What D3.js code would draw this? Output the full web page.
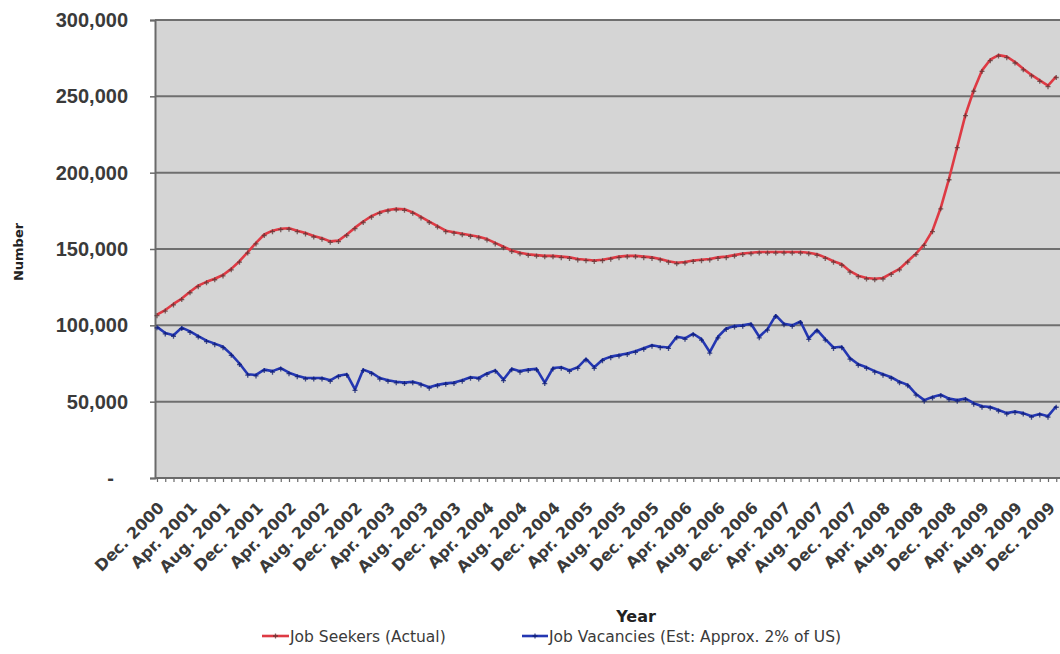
<!DOCTYPE html>
<html>
<head>
<meta charset="utf-8">
<script src="https://cdn.jsdelivr.net/npm/d3@7"></script>
<style>
  body { margin: 0; background: #fff; }
  svg { display: block; font-family: "DejaVu Sans", Verdana, sans-serif; }
</style>
</head>
<body>
<svg id="chart" width="1060" height="654"></svg>
<script>
// Monthly figures, Dec. 2000 onward
const jobSeekers = [
  107000,110000,114000,117500,122000,126000,128500,130500,133000,137000,
  142000,148000,154000,159500,162000,163300,163600,162000,160500,158500,
  157000,155000,155500,159500,164000,168000,171500,174000,175500,176300,
  176000,174000,171000,168000,165000,162000,161000,160000,159000,158000,
  156500,154000,151500,149000,147500,146500,146000,145500,145500,145000,
  144500,143500,143000,142500,143000,144000,145000,145500,145500,145000,
  144500,143500,142000,141000,141500,142500,143000,143500,144500,145000,
  146000,147000,147500,148000,148000,148000,148000,148000,148000,147500,
  146500,144500,142000,140000,135500,132500,131000,130500,131000,134000,
  137000,142000,147000,153000,162000,177000,196000,217000,238000,254000,
  267000,274000,277000,276000,272500,268000,264000,260500,257000,263000
];

const jobVacancies = [
  99000,95000,93500,98500,96000,93000,90000,88000,86000,81000,
  75000,68000,67500,71000,70000,72000,69000,67000,65500,65500,
  65500,64000,67000,68000,58000,71000,69000,65500,64000,63000,
  62500,63000,61500,59500,61000,62000,62500,64000,66000,65500,
  68500,70500,64500,71500,70000,71000,71500,62500,72000,72500,
  70500,72500,78000,72500,77500,79500,80500,81500,83000,85000,
  87000,86000,85500,92500,91500,94500,91000,82500,92500,98000,
  99500,100000,101000,92500,97500,106500,101000,100000,102500,91500,
  97000,91000,85500,86000,78500,74500,72500,70000,68000,66000,
  63000,61000,55000,51000,53000,54500,52000,51000,52000,49000,
  47000,46500,44500,42500,43500,42500,40500,42000,40500,47000
];

const yTicks = [0, 50000, 100000, 150000, 200000, 250000, 300000];

const xTickLabels = [
  "Dec. 2000","Apr. 2001","Aug. 2001","Dec. 2001","Apr. 2002","Aug. 2002","Dec. 2002",
  "Apr. 2003","Aug. 2003","Dec. 2003","Apr. 2004","Aug. 2004","Dec. 2004",
  "Apr. 2005","Aug. 2005","Dec. 2005","Apr. 2006","Aug. 2006","Dec. 2006",
  "Apr. 2007","Aug. 2007","Dec. 2007","Apr. 2008","Aug. 2008","Dec. 2008",
  "Apr. 2009","Aug. 2009","Dec. 2009"
];
const labelStep = 4; // one label every four months

const seriesNames = ["Job Seekers (Actual)", "Job Vacancies (Est: Approx. 2% of US)"];

const svg = d3.select("#chart");
const plot = { left: 155, right: 1060, top: 20, bottom: 478 };

const idx = d3.range(jobSeekers.length);
const x = d3.scalePoint().domain(idx).range([157, 1056.25]);
const y = d3.scaleLinear().domain([0, 300000]).range([plot.bottom, plot.top]);

const textColor = "#3a3a3a";

// plot area
svg.append("rect")
  .attr("x", plot.left).attr("y", plot.top)
  .attr("width", plot.right - plot.left).attr("height", plot.bottom - plot.top)
  .attr("fill", "#d5d5d5");

// horizontal gridlines
svg.append("g")
  .selectAll("line")
  .data(yTicks.filter(d => d > 0))
  .join("line")
  .attr("x1", plot.left).attr("x2", plot.right)
  .attr("y1", d => y(d)).attr("y2", d => y(d))
  .attr("stroke", "#6f6f6f").attr("stroke-width", 2);

// y axis
const yAxis = svg.append("g")
  .attr("transform", `translate(${plot.left},0)`)
  .call(d3.axisLeft(y).tickValues(yTicks).tickSize(5).tickPadding(22)
    .tickFormat(d => d === 0 ? "-" : d3.format(",")(d)));
yAxis.select(".domain").attr("stroke", "#6a6a6a").attr("stroke-width", 2);
yAxis.selectAll(".tick line").attr("stroke", "#6a6a6a").attr("stroke-width", 1.5);
yAxis.selectAll(".tick text")
  .attr("fill", textColor)
  .style("font-size", "20px").style("font-weight", "bold")
  .attr("dx", d => d === 0 ? "-14" : "0");

// x axis: a tick for every month, labels every fourth month
const xAxis = svg.append("g")
  .attr("transform", `translate(0,${plot.bottom})`)
  .call(d3.axisBottom(x).tickSize(4).tickFormat(""));
xAxis.select(".domain").attr("stroke", "#6a6a6a").attr("stroke-width", 2)
  .attr("d", `M${plot.left},0H${plot.right}`);
xAxis.selectAll(".tick line").attr("stroke", "#6a6a6a").attr("stroke-width", 1.2);

svg.append("g")
  .selectAll("text")
  .data(xTickLabels)
  .join("text")
  .attr("transform", (d, i) => `translate(${x(i * labelStep) + 8},${plot.bottom + 31}) rotate(-45)`)
  .attr("text-anchor", "end")
  .attr("fill", textColor)
  .style("font-size", "16px").style("font-weight", "bold")
  .text(d => d);

// axis titles
svg.append("text")
  .attr("transform", "translate(23,252) rotate(-90)")
  .attr("text-anchor", "middle")
  .attr("fill", "#222")
  .style("font-size", "13px").style("font-weight", "bold")
  .text("Number");

svg.append("text")
  .attr("x", 636).attr("y", 622)
  .attr("text-anchor", "middle")
  .attr("fill", "#222")
  .style("font-size", "16px").style("font-weight", "bold")
  .text("Year");

// series
const series = [
  { name: seriesNames[0], values: jobSeekers, color: "#de3a44", marker: "#5a3232" },
  { name: seriesNames[1], values: jobVacancies, color: "#2437b2", marker: "#0c1a6e" }
];

const line = d3.line().x((d, i) => x(i)).y(d => y(d));
const cross = "M-2.5,0H2.5M0,-2.5V2.5";

series.forEach(s => {
  svg.append("path")
    .datum(s.values)
    .attr("fill", "none")
    .attr("stroke", s.color)
    .attr("stroke-width", 2.6)
    .attr("stroke-linejoin", "round")
    .attr("d", line);
  svg.append("g")
    .selectAll("path")
    .data(s.values)
    .join("path")
    .attr("transform", (d, i) => `translate(${x(i)},${y(d) + 1})`)
    .attr("d", cross)
    .attr("stroke", s.marker)
    .attr("stroke-width", 1.3)
    .attr("opacity", 0.75);
});

// legend
const legendItems = [
  { x: 262, w: 27 },
  { x: 522, w: 26 }
];
const legend = svg.append("g");
series.forEach((s, k) => {
  const it = legendItems[k];
  legend.append("line")
    .attr("x1", it.x).attr("x2", it.x + it.w)
    .attr("y1", 636).attr("y2", 636)
    .attr("stroke", s.color).attr("stroke-width", 2.6);
  legend.append("path")
    .attr("transform", `translate(${it.x + it.w / 2},636)`)
    .attr("d", cross)
    .attr("stroke", s.marker).attr("stroke-width", 1.3).attr("opacity", 0.75);
  legend.append("text")
    .attr("x", it.x + it.w + 1).attr("y", 641.5)
    .attr("fill", textColor)
    .style("font-size", "15.5px")
    .text(s.name);
});
</script>
</body>
</html>
